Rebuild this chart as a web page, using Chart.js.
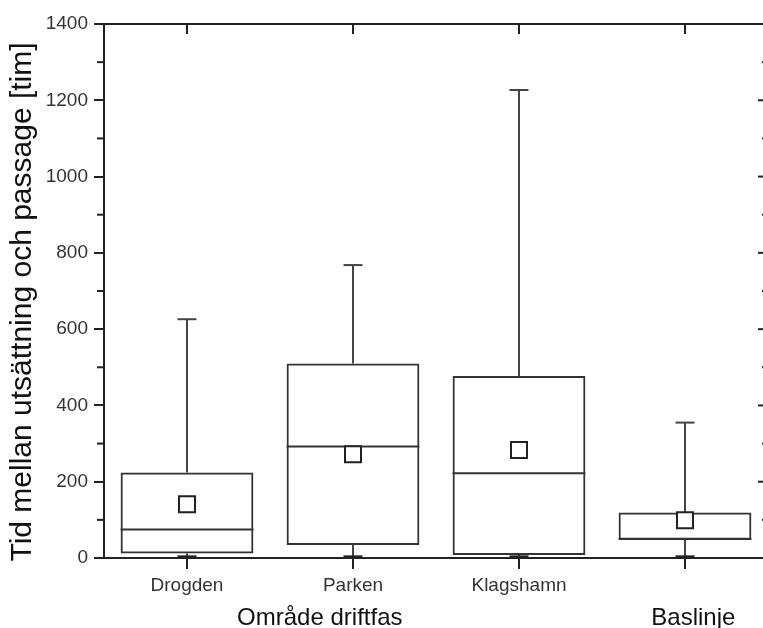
<!DOCTYPE html>
<html><head><meta charset="utf-8">
<script src="https://cdn.jsdelivr.net/npm/chart.js@4.4.1/dist/chart.umd.min.js"></script>
<style>
html,body{margin:0;padding:0;background:#fff;overflow:hidden;}
canvas{display:block;}
</style></head><body>
<canvas id="c" width="768" height="628" style="width:768px;height:628px"></canvas>
<script>
const categories = ['Drogden', 'Parken', 'Klagshamn', 'Baslinje'];
const tickLabels = ['Drogden', 'Parken', 'Klagshamn', ''];
const groupLabels = ['Område driftfas', 'Baslinje'];
const yTitle = 'Tid mellan utsättning och passage [tim]';
const whiskerHigh = [626, 768, 1227, 355];
const q3 = [224, 510, 477, 119];
const median = [75, 292, 222, 50];
const q1 = [12, 34, 8, 48];
const whiskerLow = [3, 3, 3, 3];
const means = [141, 272, 283, 99];
const yTickValues = [0, 200, 400, 600, 800, 1000, 1200, 1400];
const yMinorTicks = [100, 300, 500, 700, 900, 1100, 1300];

const INK = '#222';
const FONT = "'Liberation Sans', Arial, sans-serif";

function seg(ctx, x1, y1, x2, y2) { ctx.beginPath(); ctx.moveTo(x1, y1); ctx.lineTo(x2, y2); ctx.stroke(); }

const boxParts = {
  id: 'boxParts',
  beforeDatasetsDraw(chart) {
    const { ctx, scales: { x, y } } = chart;
    const bars = chart.getDatasetMeta(1).data;
    ctx.save();
    ctx.lineCap = 'butt';
    categories.forEach((c, i) => {
      const cx = x.getPixelForValue(i);
      const half = bars[i].width / 2;
      ctx.strokeStyle = '#444';
      ctx.lineWidth = 2;
      seg(ctx, cx, y.getPixelForValue(q3[i]), cx, y.getPixelForValue(whiskerHigh[i]));
      seg(ctx, cx, y.getPixelForValue(q1[i]), cx, y.getPixelForValue(whiskerLow[i]));
      seg(ctx, cx - 9.5, y.getPixelForValue(whiskerHigh[i]), cx + 9.5, y.getPixelForValue(whiskerHigh[i]));
      ctx.strokeStyle = INK;
      ctx.lineWidth = 3;
      seg(ctx, cx - 9.5, y.getPixelForValue(whiskerLow[i]), cx + 9.5, y.getPixelForValue(whiskerLow[i]));
      ctx.lineWidth = 2;
      ctx.strokeStyle = '#333';
      seg(ctx, cx - half, y.getPixelForValue(median[i]), cx + half, y.getPixelForValue(median[i]));
    });
    ctx.restore();
  },
  afterDraw(chart) {
    const { ctx, chartArea: a, scales: { x, y } } = chart;
    ctx.save();
    ctx.strokeStyle = INK;
    ctx.lineWidth = 2;
    // top and right frame
    seg(ctx, a.left - 1, a.top, a.right, a.top);
    seg(ctx, a.right - 1, a.top, a.right - 1, a.bottom);
    // top inward ticks
    categories.forEach((c, i) => {
      const cx = x.getPixelForValue(i);
      seg(ctx, cx, a.top, cx, a.top + 10);
    });
    // right inward major ticks
    yTickValues.forEach(v => {
      const py = y.getPixelForValue(v);
      seg(ctx, a.right, py, a.right - 10, py);
    });
    // minor ticks: left outward, right inward
    yMinorTicks.forEach(v => {
      const py = y.getPixelForValue(v);
      seg(ctx, a.left, py, a.left - 7, py);
      seg(ctx, a.right, py, a.right - 6, py);
    });
    // group labels
    ctx.fillStyle = '#111';
    ctx.font = '24px ' + FONT;
    ctx.textAlign = 'center';
    ctx.textBaseline = 'alphabetic';
    ctx.fillText(groupLabels[0], x.getPixelForValue(0.8), chart.height - 3);
    ctx.fillText(groupLabels[1], x.getPixelForValue(3.05), chart.height - 3);
    // y axis title
    ctx.translate(23, (a.top + a.bottom) / 2 + 11);
    ctx.rotate(-Math.PI / 2);
    ctx.font = '30px ' + FONT;
    ctx.textBaseline = 'middle';
    ctx.fillText(yTitle, 0, 0);
    ctx.restore();
  }
};

new Chart(document.getElementById('c'), {
  type: 'bar',
  data: {
    labels: categories,
    datasets: [
      {
        type: 'line',
        label: 'Medel',
        data: means,
        showLine: false,
        pointStyle: 'rect',
        pointRadius: 11.3,
        pointBackgroundColor: '#fff',
        pointBorderColor: INK,
        pointBorderWidth: 2,
        order: 1
      },
      {
        type: 'bar',
        label: 'Kvartiler',
        data: categories.map((c, i) => [q1[i], q3[i]]),
        backgroundColor: 'rgba(0,0,0,0)',
        borderColor: '#333',
        borderWidth: 2,
        borderSkipped: false,
        categoryPercentage: 1,
        barPercentage: 0.8,
        order: 2
      }
    ]
  },
  options: {
    responsive: false,
    animation: false,
    devicePixelRatio: 1,
    layout: { autoPadding: false, padding: { top: 24, left: 0, right: 0, bottom: 0 } },
    plugins: { legend: { display: false }, tooltip: { enabled: false } },
    scales: {
      x: {
        offset: true,
        grid: { display: true, drawOnChartArea: false, offset: false, tickLength: 11, color: INK, lineWidth: 2 },
        border: { display: true, color: INK, width: 2 },
        ticks: {
          autoSkip: false, maxRotation: 0, minRotation: 0, padding: 5,
          color: '#333', font: { family: FONT, size: 19 },
          callback: (v, i) => tickLabels[i]
        },
        afterFit: s => { s.height = 70; }
      },
      y: {
        min: 0, max: 1400,
        afterBuildTicks: s => { s.ticks = yTickValues.map(v => ({ value: v })); },
        grid: { display: true, drawOnChartArea: false, tickLength: 10, color: INK, lineWidth: 2 },
        border: { display: true, color: INK, width: 2 },
        ticks: { padding: 6, color: '#333', font: { family: FONT, size: 19 }, callback: v => String(v) },
        afterFit: s => { s.width = 104; }
      }
    }
  },
  plugins: [boxParts]
});
</script>
</body></html>
